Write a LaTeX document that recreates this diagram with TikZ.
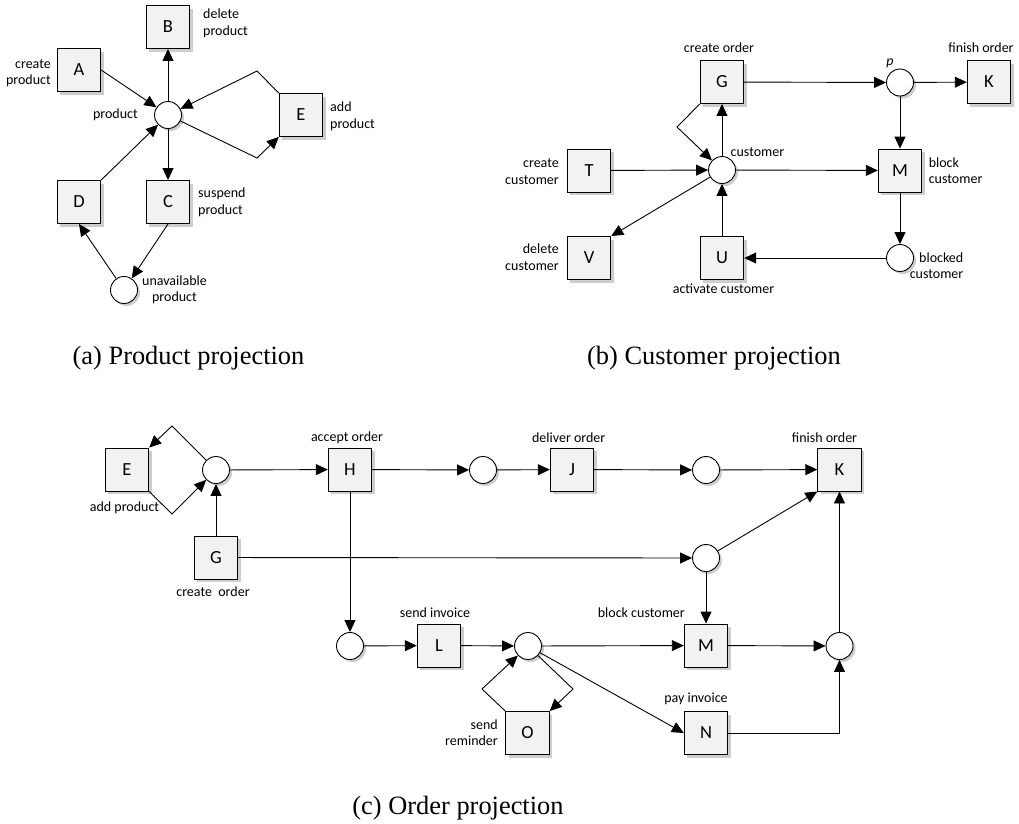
\documentclass[tikz,border=0pt]{standalone}
\usepackage{fontspec}
\setmainfont{Carlito}
\newfontfamily\mycapfont{Liberation Serif}
\usetikzlibrary{arrows.meta,shadows}
\definecolor{boxgray}{RGB}{242,242,242}
\definecolor{shadowgray}{RGB}{205,205,205}
\newcommand\lblsize{\fontsize{14}{16.5}\selectfont}
\newcommand\letsize{\fontsize{18.5}{20}\selectfont}
\newcommand\capsize{\fontsize{26.4}{30}\selectfont}
\tikzset{
  trans/.style={draw=black, line width=0.9pt, fill=boxgray, minimum width=43.5pt, minimum height=43pt, inner sep=0pt, font=\letsize,
    drop shadow={shadow xshift=3pt, shadow yshift=-3pt, fill=shadowgray, opacity=1}},
  place/.style={circle, draw=black, line width=0.9pt, fill=white, minimum size=27pt, inner sep=0pt,
    drop shadow={shadow xshift=2.5pt, shadow yshift=-2.5pt, fill=shadowgray, opacity=1}},
  lbl/.style={font=\lblsize, inner sep=0pt},
  arr/.style={line width=0.9pt, -{Triangle[length=12pt,width=11pt]}},
  ln/.style={line width=0.9pt},
  captext/.style={font=\mycapfont\capsize, inner sep=0pt}
}
\begin{document}
\begin{tikzpicture}[x=1pt,y=-1pt]
\useasboundingbox[fill=white] (0,0) rectangle (1019,823);

% ---------------- (a) Product projection
\node[trans] (aA) at (79,70) {A};
\node[trans] (aB) at (168,27) {B};
\node[trans] (aC) at (168,202) {C};
\node[trans] (aD) at (79,202) {D};
\node[trans] (aE) at (301,115) {E};
\node[place] (ap) at (168,115) {};
\node[place] (au) at (124,290) {};
\coordinate (aea) at (257,71);
\coordinate (aeb) at (257,158);

\node[lbl, anchor=east, align=right] (laA) at (51,73) {create\\product};
\node[lbl, anchor=west, align=left] (laB) at (203,23.5) {delete\\product};
\node[lbl, anchor=east] (lap) at (138,115) {product};
\node[lbl, anchor=west, align=left] (laE) at (330,116.5) {add\\product};
\node[lbl, anchor=west, align=left] (laC) at (198,202.5) {suspend\\product};
\node[lbl, align=center] (lau) at (174.5,290) {unavailable\\product};

\draw[arr] (aA.east) -- (ap);
\draw[arr] (ap) -- (aB);
\draw[arr] (ap) -- (aC);
\draw[arr] (aD.north east) -- (ap);
\draw[arr] (aC.south) -- (au);
\draw[arr] (au) -- (aD.south);
\draw[arr] (aE.north west) -- (aea) -- (ap);
\draw[arr] (ap) -- (aeb) -- (aE.south west);

\node[captext] (capa) at (188.5,358) {(a) Product projection};

% ---------------- (b) Customer projection
\node[trans] (bG) at (722,82) {G};
\node[place] (bp) at (900,82.5) {};
\node[trans] (bK) at (989,82) {K};
\node[trans] (bT) at (589,170.5) {T};
\node[place] (bc) at (722,170) {};
\node[trans] (bM) at (900,170.5) {M};
\node[trans] (bV) at (589,258) {V};
\node[trans] (bU) at (722,258) {U};
\node[place] (bb) at (900,258) {};
\coordinate (bl) at (677,127);

\node[lbl] (lbG) at (719,48) {create order};
\node[lbl] (lbp) at (890,63) {\itshape p};
\node[lbl] (lbK) at (981,48) {finish order};
\node[lbl, anchor=east, align=right] (lbT) at (559,171.5) {create\\customer};
\node[lbl, anchor=west] (lbc) at (730.5,152) {customer};
\node[lbl, anchor=west, align=left] (lbM) at (928.6,170.5) {block\\customer};
\node[lbl, anchor=east, align=right] (lbV) at (559,257) {delete\\customer};
\node[lbl] (lbU) at (723.5,289) {activate customer};
\node[lbl, anchor=east, align=right] (lbb) at (963.5,265.5) {blocked\\customer};

\draw[arr] (bG.south west) -- (bl) -- (bc);
\draw[arr] (bc) -- (bG);
\draw[arr] (bG) -- (bp);
\draw[arr] (bp) -- (bK);
\draw[arr] (bp) -- (bM);
\draw[arr] (bT) -- (bc);
\draw[arr] (bc) -- (bM);
\draw[arr] (bc) -- (bV.north east);
\draw[arr] (bU) -- (bc);
\draw[arr] (bM) -- (bb);
\draw[arr] (bb) -- (bU);

\node[captext] (capb) at (714,358) {(b) Customer projection};

% ---------------- (c) Order projection
\node[trans] (cE) at (127,469.5) {E};
\node[place] (c1) at (216,470) {};
\node[trans] (cH) at (350,469.5) {H};
\node[place] (c2) at (483,470) {};
\node[trans] (cJ) at (572,469.5) {J};
\node[place] (c3) at (706,470) {};
\node[trans] (cK) at (839.5,469.5) {K};
\node[trans] (cG) at (216,557.5) {G};
\node[place] (c4) at (706,558) {};
\node[place] (c5) at (350,646) {};
\node[trans] (cL) at (439,645.5) {L};
\node[place] (c6) at (528,646) {};
\node[trans] (cM) at (706,645.5) {M};
\node[place] (c7) at (839.5,646) {};
\node[trans] (cO) at (527.5,733) {O};
\node[trans] (cN) at (706,733) {N};
\coordinate (cea) at (172,426);
\coordinate (ceb) at (172,514);
\coordinate (coa) at (482,689);
\coordinate (cob) at (573,689);
\coordinate (cnc) at (839.5,733);

\node[lbl] (lcE) at (124.5,508) {add product};
\node[lbl] (lcH) at (347,438) {accept order};
\node[lbl] (lcJ) at (568.7,438) {deliver order};
\node[lbl] (lcK) at (824.5,438) {finish order};
\node[lbl] (lcG) at (213,592) {create\ \ order};
\node[lbl] (lcL) at (435,613) {send invoice};
\node[lbl, anchor=east] (lcM) at (685,613) {block customer};
\node[lbl] (lcN) at (696,699) {pay invoice};
\node[lbl, anchor=east, align=right] (lcO) at (498,732.5) {send\\reminder};

\draw[arr] (c1) -- (cea) -- (cE.north east);
\draw[arr] (cE.south east) -- (ceb) -- (c1);
\draw[arr] (cG) -- (c1);
\draw[arr] (c1) -- (cH);
\draw[arr] (cH) -- (c2);
\draw[arr] (c2) -- (cJ);
\draw[arr] (cJ) -- (c3);
\draw[arr] (c3) -- (cK);
\draw[arr] (cG) -- (c4);
\draw[arr] (c4) -- (cK.south west);
\draw[arr] (c4) -- (cM);
\draw[arr] (cH) -- (c5);
\draw[arr] (c5) -- (cL);
\draw[arr] (cL) -- (c6);
\draw[arr] (c6) -- (cM);
\draw[arr] (c6) -- (cN.west);
\draw[arr] (cO.north west) -- (coa) -- (c6);
\draw[arr] (c6) -- (cob) -- (cO.north east);
\draw[arr] (cM) -- (c7);
\draw[arr] (cN) -- (cnc) -- (c7);
\draw[arr] (c7) -- (cK);

\node[captext] (capc) at (458,808) {(c) Order projection};
\end{tikzpicture}
\end{document}
